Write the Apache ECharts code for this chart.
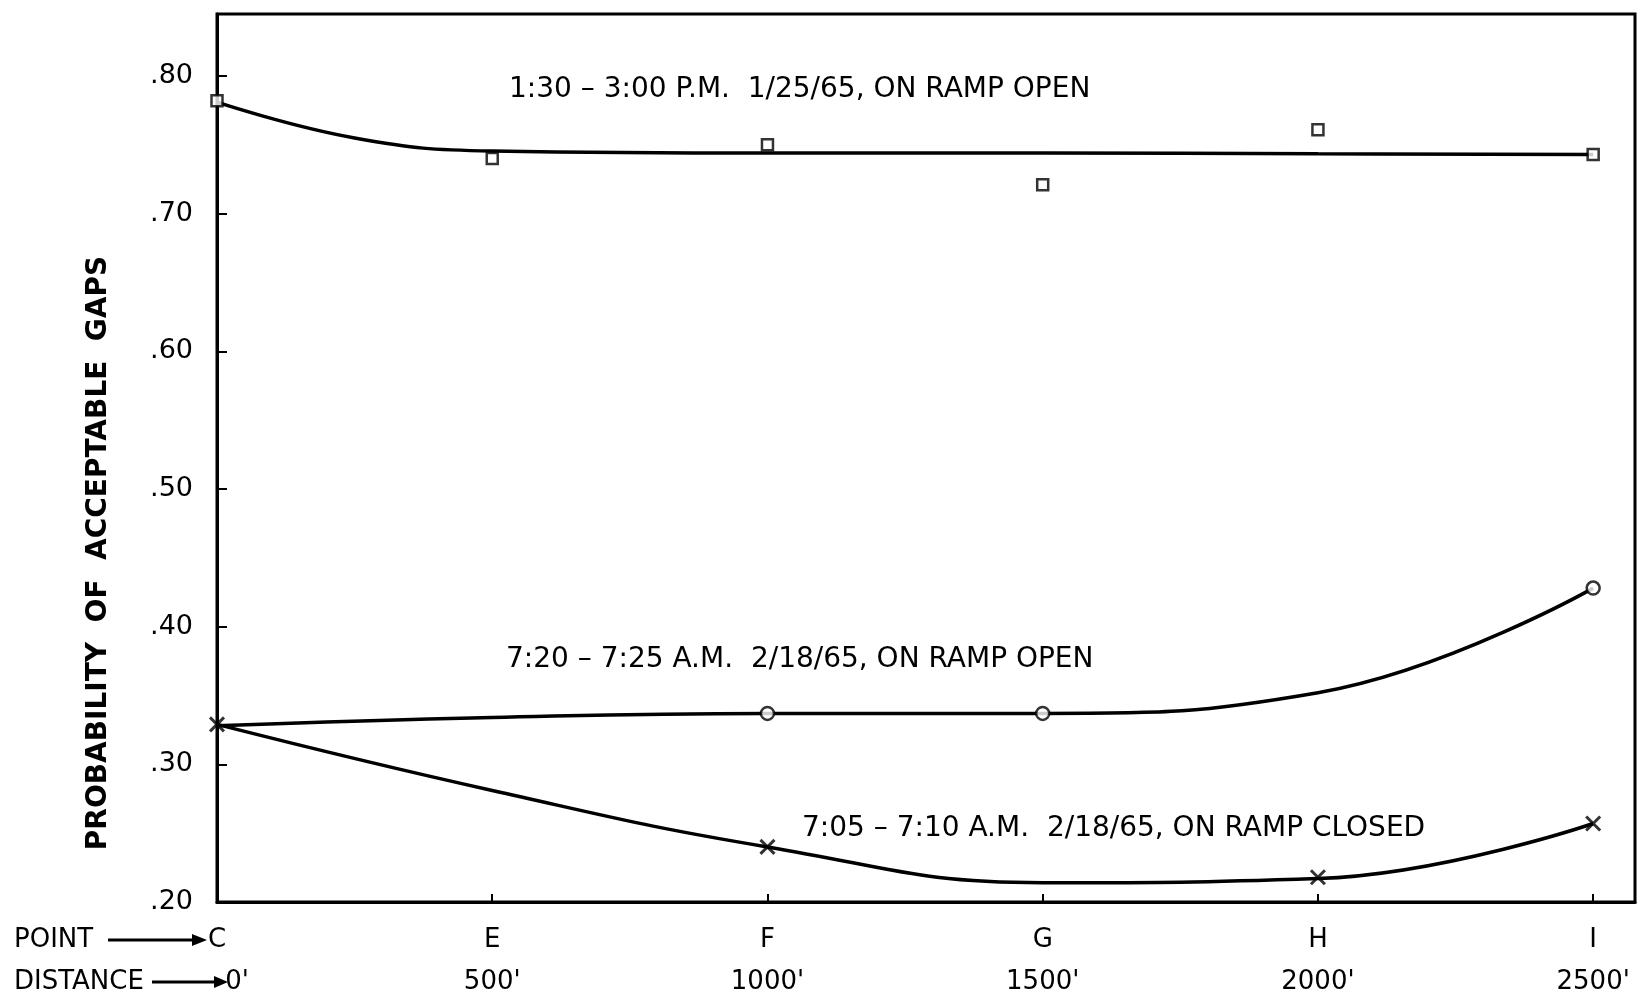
<!DOCTYPE html>
<html>
<head>
<meta charset="utf-8">
<script src="https://cdn.jsdelivr.net/npm/echarts@6/dist/echarts.min.js"></script>
<style>
  html, body { margin: 0; padding: 0; background: #fff; }
  #chart { width: 1640px; height: 998px; }
</style>
</head>
<body>
<div id="chart"></div>
<script>
// distance along freeway (ft) and point names
const distances = [0, 500, 1000, 1500, 2000, 2500];
const pointNames = ['C', 'E', 'F', 'G', 'H', 'I'];

// observed points, 1:30-3:00 PM 1/25/65, on ramp open (squares)
const pmOpenPts = [[0, 0.782], [500, 0.740], [1000, 0.750], [1500, 0.721], [2000, 0.761], [2500, 0.743]];
// hand-fitted curve
const pmOpenCurve = [[0, 0.781], [250, 0.755], [500, 0.7455], [1000, 0.744], [1500, 0.744], [2000, 0.7435], [2500, 0.743]];

// 7:20-7:25 AM 2/18/65, on ramp open (circles)
const amOpenPts = [[1000, 0.337], [1500, 0.337], [2500, 0.428]];
const amOpenCurve = [[0, 0.328], [500, 0.334], [1000, 0.337], [1500, 0.337], [2000, 0.352], [2500, 0.428]];

// 7:05-7:10 AM 2/18/65, on ramp closed (crosses)
const amClosedPts = [[0, 0.329], [1000, 0.240], [2000, 0.218], [2500, 0.257]];
const amClosedCurve = [[0, 0.329], [500, 0.281], [1000, 0.240], [1500, 0.214], [2000, 0.217], [2500, 0.257]];

const yTicks = [0.2, 0.3, 0.4, 0.5, 0.6, 0.7, 0.8];

const FONT = 'DejaVu Sans';
const chart = echarts.init(document.getElementById('chart'));

const lineSeries = (data) => ({
  type: 'line',
  data: data,
  smooth: 0.45,
  showSymbol: false,
  silent: true,
  lineStyle: { color: '#000', width: 3.5 },
  z: 2
});

const txt = (x, y, s, size) => ({
  type: 'text', x: x, y: y,
  style: { text: s, fill: '#000', font: (size || 26) + 'px "' + FONT + '"', verticalAlign: 'middle' }
});

const option = {
  backgroundColor: '#fff',
  animation: false,
  grid: {
    left: 217, top: 14, right: 5, bottom: 96,
    outerBoundsMode: 'none',
    show: true, borderColor: '#000', borderWidth: 3
  },
  xAxis: {
    type: 'value',
    min: 0,
    max: 2576,
    interval: 500,
    splitLine: { show: false },
    axisLine: { lineStyle: { color: '#000', width: 3 } },
    axisTick: { inside: true, length: 8, lineStyle: { color: '#000', width: 2 } },
    axisLabel: {
      margin: 17,
      color: '#000',
      fontFamily: FONT,
      lineHeight: 42,
      formatter: function (v) {
        const i = distances.indexOf(v);
        if (i < 0) return '';
        return '{p|' + pointNames[i] + '}\n{' + (i === 0 ? 'd0' : 'd') + '|' + v + '\'}';
      },
      rich: {
        p: { fontSize: 26, fontFamily: FONT, color: '#000', lineHeight: 42 },
        d: { fontSize: 26, fontFamily: FONT, color: '#000', lineHeight: 42 },
        d0: { fontSize: 26, fontFamily: FONT, color: '#000', lineHeight: 42, padding: [0, 0, 0, 40] }
      }
    }
  },
  yAxis: {
    type: 'value',
    min: 0.2,
    max: 0.845,
    interval: 0.1,
    splitLine: { show: false },
    axisLine: { lineStyle: { color: '#000', width: 3 } },
    axisTick: { inside: true, length: 10, lineStyle: { color: '#000', width: 2 } },
    axisLabel: {
      margin: 24,
      color: '#000',
      fontSize: 27,
      fontFamily: FONT,
      formatter: function (v) {
        const hit = yTicks.find(t => Math.abs(t - v) < 1e-6);
        return hit === undefined ? '' : '.' + Math.round(hit * 100);
      }
    }
  },
  graphic: [
    {
      type: 'text', x: 99, y: 553, rotation: Math.PI / 2,
      style: {
        text: 'PROBABILITY  OF  ACCEPTABLE  GAPS', fill: '#000',
        font: 'bold 28px "' + FONT + '"', align: 'center', verticalAlign: 'middle'
      }
    },
    txt(509, 90, '1:30 \u2013 3:00 P.M.  1/25/65, ON RAMP OPEN', 28),
    txt(506, 660, '7:20 \u2013 7:25 A.M.  2/18/65, ON RAMP OPEN', 28),
    txt(802, 829, '7:05 \u2013 7:10 A.M.  2/18/65, ON RAMP CLOSED', 28),
    txt(14, 940, 'POINT'),
    { type: 'line', shape: { x1: 108, y1: 940, x2: 196, y2: 940 }, style: { stroke: '#000', lineWidth: 3 } },
    { type: 'polygon', shape: { points: [[192, 934], [207, 940], [192, 946]] }, style: { fill: '#000' } },
    txt(14, 982, 'DISTANCE'),
    { type: 'line', shape: { x1: 152, y1: 982, x2: 218, y2: 982 }, style: { stroke: '#000', lineWidth: 3 } },
    { type: 'polygon', shape: { points: [[214, 976], [228, 982], [214, 988]] }, style: { fill: '#000' } }
  ],
  series: [
    lineSeries(pmOpenCurve),
    lineSeries(amOpenCurve),
    lineSeries(amClosedCurve),
    {
      type: 'scatter', data: pmOpenPts, symbol: 'rect', symbolSize: 11,
      itemStyle: { color: '#fff', borderColor: '#000', borderWidth: 2.5 }, z: 3
    },
    {
      type: 'scatter', data: amOpenPts, symbol: 'circle', symbolSize: 13,
      itemStyle: { color: '#fff', borderColor: '#000', borderWidth: 2.5 }, z: 3
    },
    {
      type: 'scatter', data: amClosedPts, symbol: 'path://M0,0L10,10M10,0L0,10', symbolSize: 14,
      itemStyle: { color: 'none', borderColor: '#000', borderWidth: 3 }, z: 3
    }
  ]
};

chart.setOption(option);
</script>
</body>
</html>
